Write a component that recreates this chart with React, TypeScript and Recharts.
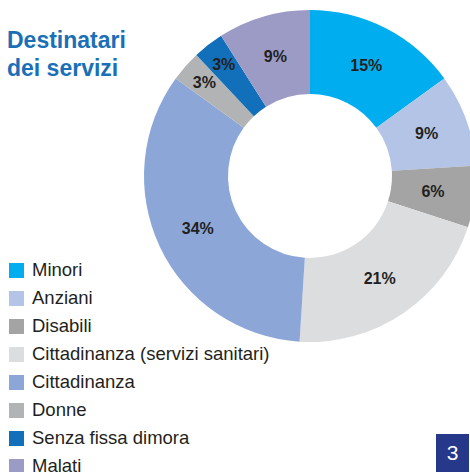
import React from 'react';
import { PieChart, Pie, Cell } from 'recharts';

const categories = [
  'Minori',
  'Anziani',
  'Disabili',
  'Cittadinanza (servizi sanitari)',
  'Cittadinanza',
  'Donne',
  'Senza fissa dimora',
  'Malati',
];
const shares = [15, 9, 6, 21, 34, 3, 3, 9];
const colors = ['#00AEEF', '#B3C4E6', '#A4A4A4', '#DCDDDF', '#8CA7D7', '#B2B3B5', '#1170B9', '#9C9BC6'];

const data = categories.map((name, i) => ({ name, value: shares[i] }));

const RAD = Math.PI / 180;
const sans = "'Liberation Sans', Arial, sans-serif";

const renderLabel = (props: any) => {
  const { cx, cy, midAngle, innerRadius, outerRadius, percent, value } = props;
  // small slices get their label pushed outward, like the original
  const r = percent < 0.05 ? innerRadius + (outerRadius - innerRadius) * 0.7 : (innerRadius + outerRadius) / 2;
  const x = cx + r * Math.cos(-midAngle * RAD);
  const y = cy + r * Math.sin(-midAngle * RAD);
  return (
    <text
      x={x}
      y={y}
      textAnchor="middle"
      dominantBaseline="central"
      fill="#231F20"
      fontFamily={sans}
      fontWeight="bold"
      fontSize={16}
    >
      {`${value}%`}
    </text>
  );
};

export default function App() {
  return (
    <div style={{ position: 'absolute', left: 0, top: 0, width: 470, height: 472, background: '#fff', overflow: 'hidden' }}>
      <div
        style={{
          position: 'absolute',
          left: 7,
          top: 26,
          fontFamily: sans,
          fontWeight: 'bold',
          fontSize: 23,
          lineHeight: '28px',
          color: '#1B6FB6',
          zIndex: 2,
        }}
      >
        Destinatari
        <br />
        dei servizi
      </div>
      <PieChart width={470} height={472} margin={{ top: 0, right: 0, bottom: 0, left: 0 }}>
        <Pie
          data={data}
          dataKey="value"
          nameKey="name"
          cx={310}
          cy={176}
          innerRadius={82}
          outerRadius={166}
          startAngle={90}
          endAngle={-270}
          stroke="none"
          label={renderLabel}
          labelLine={false}
          isAnimationActive={false}
        >
          {data.map((d, i) => (
            <Cell key={d.name} fill={colors[i]} />
          ))}
        </Pie>
      </PieChart>
      <ul style={{ position: 'absolute', left: 0, top: 256, listStyle: 'none', margin: 0, padding: 0 }}>
        {categories.map((name, i) => (
          <li key={name} style={{ display: 'flex', alignItems: 'center', height: 28 }}>
            <span style={{ width: 15, height: 15, background: colors[i], marginLeft: 9, marginRight: 8 }} />
            <span style={{ fontFamily: sans, fontSize: 18.5, color: '#231F20' }}>{name}</span>
          </li>
        ))}
      </ul>
      <div
        style={{
          position: 'absolute',
          left: 436,
          top: 434,
          width: 33,
          height: 38,
          background: '#26388A',
          color: '#fff',
          fontFamily: sans,
          fontSize: 21,
          display: 'flex',
          alignItems: 'center',
          justifyContent: 'center',
        }}
      >
        3
      </div>
    </div>
  );
}
